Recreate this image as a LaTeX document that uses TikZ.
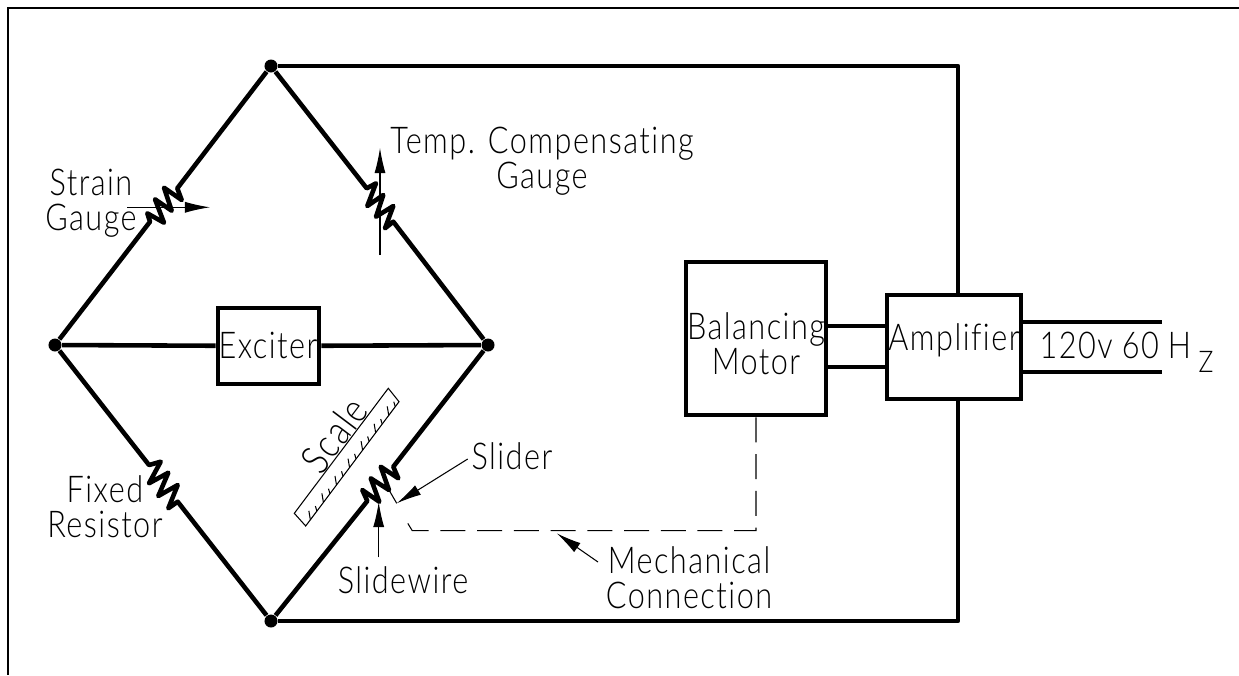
\documentclass[tikz,border=0pt]{standalone}
\usepackage{fontspec}
\setmainfont{Lato Light}[LetterSpace=4,FakeStretch=.83,RawFeature=-liga]
\usetikzlibrary{arrows.meta}

\tikzset{
  wire/.style={line width=1.3pt,line join=round},
  thinline/.style={line width=0.3pt},
  pointer/.style={thinline,-{Latex[length=.25cm,width=.11cm]}},
  dot/.style={circle,fill=black,inner sep=0pt,minimum size=.13cm},
  box/.style={draw,line width=1.3pt,inner sep=0pt},
  lbl/.style={inner sep=0pt,align=center,font=\fontsize{10.5}{9.9}\selectfont},
}

\begin{document}
\begin{tikzpicture}[x=0.01cm,y=-0.01cm]

\useasboundingbox (0,0) rectangle (1239,675) ;
\draw [line width=0.7pt] (1239,8) -- (8,8) -- (8,675) ;

% bridge corners
\node [dot] (top) at (271,66) {} ;
\node [dot] (left) at (55,345) {} ;
\node [dot] (right) at (488,345) {} ;
\node [dot] (bottom) at (271,621) {} ;

% boxes
\node [box,minimum width=1.01cm,minimum height=.76cm] (exciter) at (268.5,346) {} ;
\node [box,minimum width=1.40cm,minimum height=1.53cm] (motor) at (756,338.5) {} ;
\node [box,minimum width=1.34cm,minimum height=1.04cm] (amplifier) at (954,347) {} ;

\node [lbl] (excitertext) at (268,345) {Exciter} ;
\node [lbl] (motortext) at (756,344) {Balancing\\Motor} ;
\node [lbl] (amplifiertext) at (954,340) {Amplifier} ;

% bridge arms with the resistors
\draw [wire] (top) -- (177.3,188.3) -- (181.7,200) -- (164,187.7) -- (171.7,210.7) -- (155,199.3) -- (164,222.7) -- (147.3,213.3) -- (150,221.7) -- (left) ;
\draw [wire] (top) -- (366.7,188.3) -- (376,183.3) -- (367.3,206) -- (383.3,195) -- (376,216.7) -- (393.3,206) -- (385,228.3) -- (393.3,221.7) -- (right) ;
\draw [wire] (left) -- (149,465) -- (160.7,461.7) -- (149,483.3) -- (168.3,472.7) -- (158.3,496) -- (177.7,485) -- (168.3,508.3) -- (177.7,501.7) -- (bottom) ;
\draw [wire] (right) -- (393.3,466.7) -- (398.3,478.3) -- (380.7,466.7) -- (389,490) -- (370.7,478.3) -- (379.3,501.7) -- (362.3,490) -- (367.3,501) -- (bottom) ;

\draw [wire] (left) -- (exciter) ;
\draw [wire] (exciter) -- (right) ;

% outer loop through the amplifier
\coordinate (railtop) at (958,66) ;
\coordinate (railbottom) at (958,621) ;
\draw [wire] (top) -- (railtop) -- (amplifier.north -| railtop) ;
\draw [wire] (bottom) -- (railbottom) -- (amplifier.south -| railbottom) ;

\draw [wire] (826,326) -- (887,326) ;
\draw [wire] (826,367) -- (887,367) ;
\coordinate (linea) at (1162,322) ;
\coordinate (lineb) at (1162,372) ;
\draw [wire] (amplifier.east |- linea) -- (linea) ;
\draw [wire] (amplifier.east |- lineb) -- (lineb) ;

% gauge arrows
\coordinate (straintail) at (127.3,207.3) ;
\coordinate (straintip) at (210,207.3) ;
\coordinate (temptail) at (380,255) ;
\coordinate (temptip) at (380,148) ;
\draw [pointer] (straintail) -- (straintip) ;
\draw [pointer] (temptail) -- (temptip) ;

% slider and leaders
\coordinate (sliderroot) at (389,490) ;
\coordinate (slidertip) at (396.7,503.3) ;
\draw [thinline] (sliderroot) -- (slidertip) ;
\draw [pointer] (467.7,459) -- (slidertip) ;
\draw [pointer] (378.7,557.3) -- (378.7,502) ;
\draw [pointer] (598,562) -- (556.7,533.3) ;

% mechanical link
\draw [thinline,dash pattern=on .25cm off .117cm] (motor.south) -- (756,530.7) -- (412.3,530.7) -- (404.3,517.7) ;

% scale
\coordinate (scalea) at (294.3,513.3) ;
\coordinate (scaleb) at (388.3,388.3) ;
\coordinate (scalec) at (399,401.7) ;
\coordinate (scaled) at (305.7,526) ;
\draw [thinline] (scalea) -- (scaleb) -- (scalec) -- (scaled) -- cycle ;
\foreach \t/\l in {.05/9,.12/5,.19/9,.26/5,.33/9,.40/5,.47/9,.54/5,.61/9,.68/5,.75/9,.82/5,.89/9,.96/5}
  \draw [thinline] ({305.7+93.3*\t},{526-124.3*\t}) -- ++(-1.5,-\l) ;

% labels
\node [lbl] (strain) at (91,203) {Strain\\Gauge} ;
\node [lbl] (temp) at (542,161) {Temp. Compensating\\Gauge} ;
\node [lbl] (fixed) at (105,507) {Fixed\\Resistor} ;
\node [lbl] (slider) at (512,456) {Slider} ;
\node [lbl] (slidewire) at (403,580) {Slidewire} ;
\node [lbl] (mechanical) at (689,578) {Mechanical\\Connection} ;
\node [lbl,rotate=53,font=\fontsize{11.5}{11}\selectfont] (scalename) at (334,435) {Scale} ;
\node [lbl,anchor=west] (supply) at (1039,345) {120v\hspace{.09cm}60\hspace{.09cm}H} ;
\node [lbl,font=\fontsize{8.5}{8}\selectfont] (supplysub) at (1206,362) {Z} ;

\end{tikzpicture}
\end{document}
